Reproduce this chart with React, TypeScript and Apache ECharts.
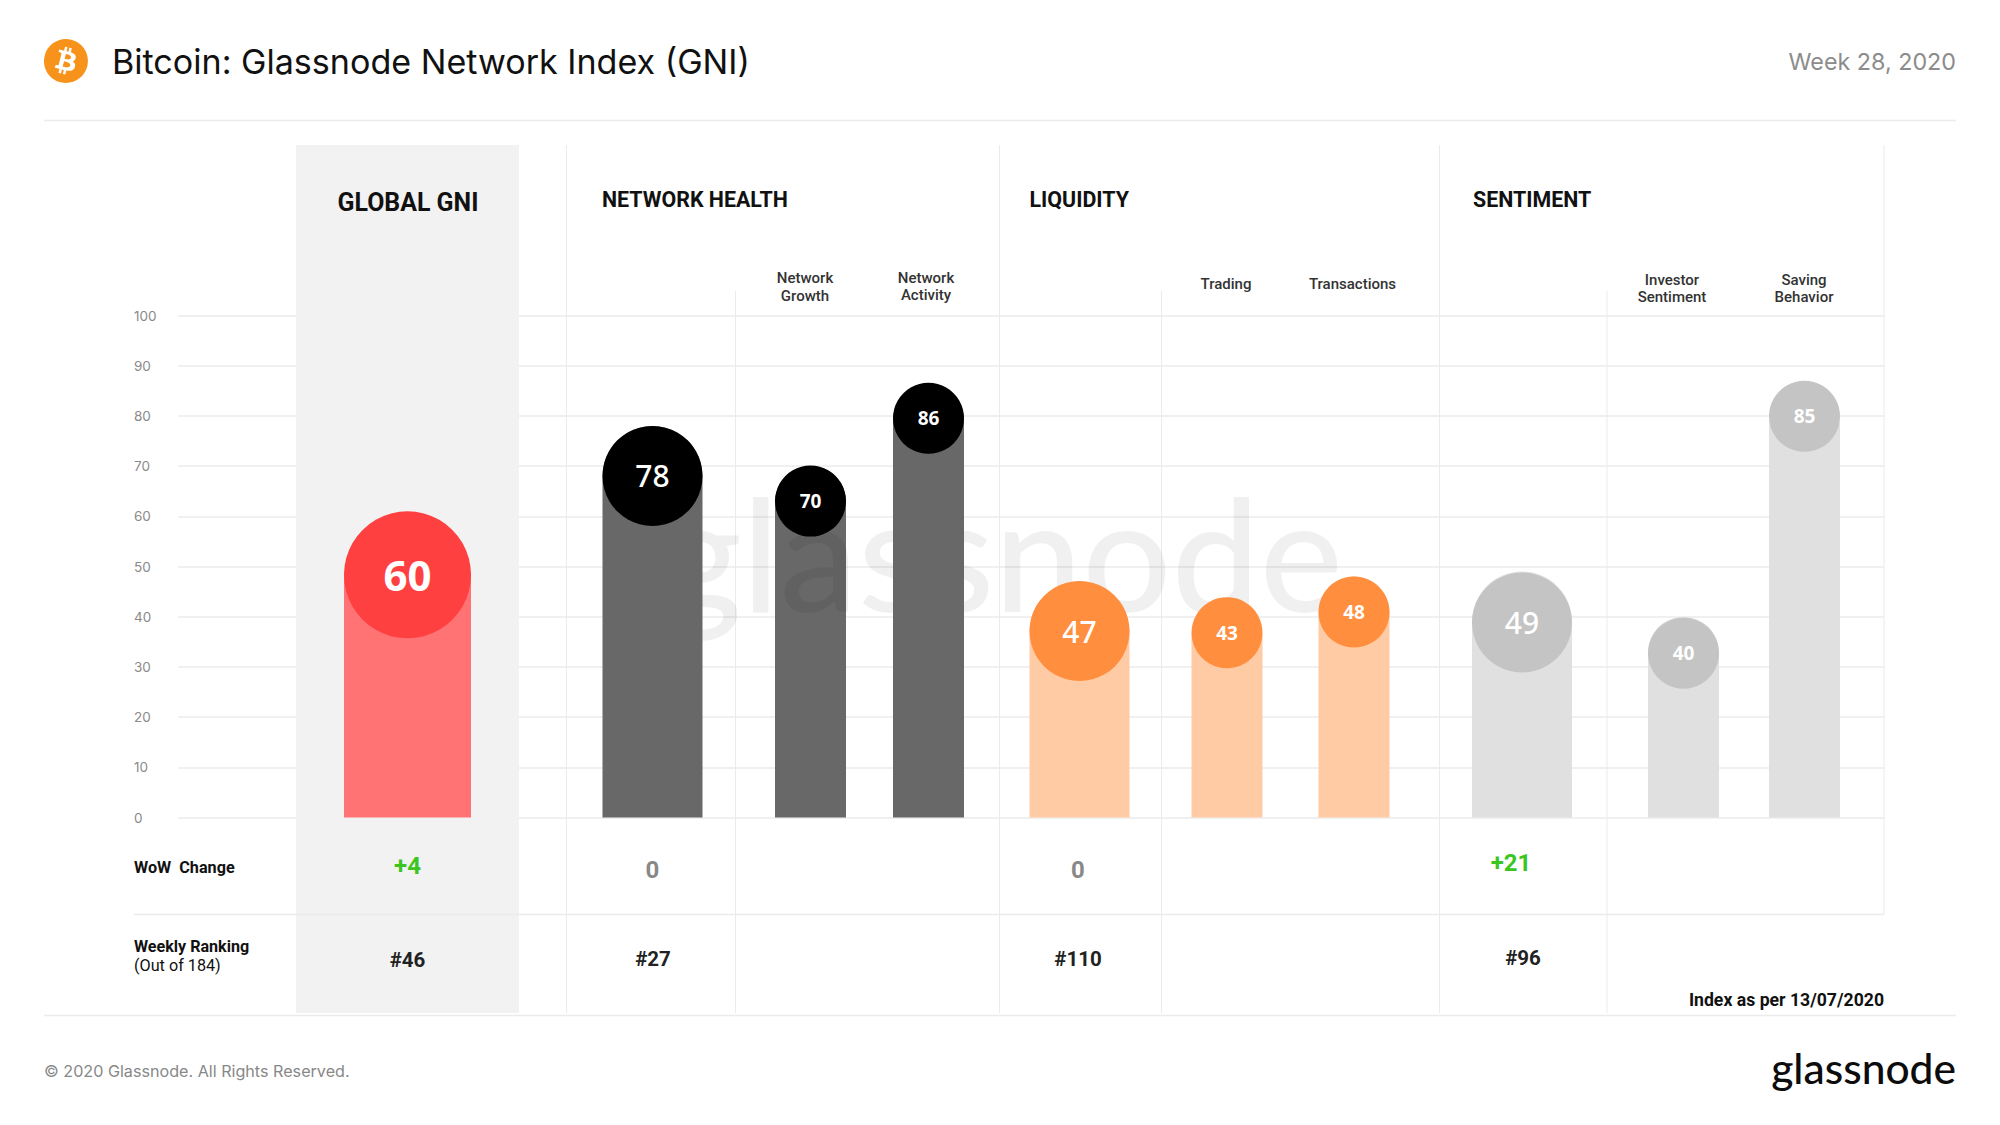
import React, { useEffect, useRef } from "react";
import * as echarts from "echarts";

const columns = ["Global GNI", "Network Health", "Network Growth", "Network Activity", "Liquidity", "Trading", "Transactions", "Sentiment", "Investor Sentiment", "Saving Behavior"];
const scores = [60, 78, 70, 86, 47, 43, 48, 49, 40, 85];
const yTicks = [0, 10, 20, 30, 40, 50, 60, 70, 80, 90, 100];
const wowChanges = ["+4", "0", "0", "+21"];
const rankings = ["#46", "#27", "#110", "#96"];

// layout of the columns (pixels), separate from the values
const barCenter = [407.5, 652.5, 810.5, 928.5, 1079.5, 1227, 1354, 1522, 1683.5, 1804.5];
const barWidth = [127, 100, 71, 71, 100, 71, 71, 100, 71, 71];
const circleNudge = [-5, 0, -0.5, -3, -0.5, -4.5, 0, 1, 1, -10];
const labelSize = [42, 30, 19, 19, 30, 19, 19, 30, 19, 19];
const labelWeight = [700, 500, 700, 700, 500, 700, 700, 500, 700, 700];
const groupOf = [0, 1, 1, 1, 2, 2, 2, 3, 3, 3];
const barColor = ["#FF7375", "#686868", "#FFCBA5", "#E0E0E0"];
const circleColor = ["#FF4040", "#000000", "#FF8F3F", "#C4C4C4"];

const PLOT = { left: 178, right: 1884, top: 315.5, height: 502 };
const LINE = "#EBEBEB";
const ROBOTO = "Roboto, sans-serif";
const INTER = "Inter, sans-serif";
const BTC = "M23.638 14.904c-1.602 6.43-8.113 10.34-14.542 8.736C2.67 22.05-1.244 15.525.362 9.105 1.962 2.67 8.475-1.243 14.9.358c6.43 1.605 10.342 8.115 8.738 14.548v-.002zm-6.35-4.613c.24-1.59-.974-2.45-2.64-3.03l.54-2.153-1.315-.33-.525 2.107c-.345-.087-.705-.167-1.064-.25l.526-2.127-1.32-.33-.54 2.165c-.285-.067-.565-.132-.84-.2l-1.815-.45-.35 1.407s.975.225.955.236c.535.136.63.486.615.766l-1.477 5.92c-.075.166-.24.406-.614.314.015.02-.96-.24-.96-.24l-.66 1.51 1.71.426.93.242-.54 2.19 1.32.327.54-2.17c.36.1.705.19 1.05.273l-.51 2.154 1.32.33.545-2.19c2.24.427 3.93.257 4.64-1.774.57-1.637-.03-2.58-1.217-3.196.854-.193 1.5-.76 1.68-1.93h.01zm-3.01 4.22c-.404 1.64-3.157.75-4.05.53l.72-2.9c.896.23 3.757.67 3.33 2.37zm.41-4.24c-.37 1.49-2.662.735-3.405.55l.654-2.64c.744.18 3.137.524 2.75 2.084v.006z";

const txt = (text: string, x: number, y: number, size: number, fill: string, family = ROBOTO, weight: number = 400, align = "left", z = 20) => ({
  type: "text",
  z,
  silent: true,
  style: { text, x, y, fill, fontSize: size, fontFamily: family, fontWeight: weight, textAlign: align, textVerticalAlign: "middle" },
});
const ln = (x1: number, y1: number, x2: number, y2: number, w = 1, stroke = LINE, z = 2) => ({
  type: "line",
  z,
  silent: true,
  shape: { x1, y1, x2, y2 },
  style: { stroke, lineWidth: w },
});

export default function App() {
  const ref = useRef<HTMLDivElement>(null);
  useEffect(() => {
    document.body.style.margin = "0";
    echarts.graphic.registerShape("btc", echarts.graphic.extendPath(BTC, {}));
    const chart = echarts.init(ref.current!, undefined, { renderer: "svg" });

    const grids: any[] = [{ left: PLOT.left, top: PLOT.top, width: PLOT.right - PLOT.left, height: PLOT.height }];
    const xAxes: any[] = [{ type: "category", gridIndex: 0, data: [""], show: false }];
    const yAxes: any[] = [{
      type: "value", gridIndex: 0, min: 0, max: 100, interval: 10, z: 0,
      axisLine: { show: false }, axisTick: { show: false },
      axisLabel: { align: "left", margin: 44, color: "#8a8a8a", fontSize: 13.5, fontFamily: INTER, padding: [0, 0, 3, 0], formatter: (v: number) => (yTicks.includes(v) ? String(v) : "") },
      splitLine: { lineStyle: { color: LINE, width: 1.5 } },
    }];
    const series: any[] = [];
    columns.forEach((name, i) => {
      const g = i + 1;
      const w = barWidth[i];
      grids.push({ left: barCenter[i] - w / 2, top: PLOT.top, width: w, height: PLOT.height });
      xAxes.push({ type: "category", gridIndex: g, data: [name], show: false });
      yAxes.push({ type: "value", gridIndex: g, min: 0, max: 100, show: false, splitLine: { show: false } });
      series.push({
        type: "bar", name, xAxisIndex: g, yAxisIndex: g, data: [scores[i]], barWidth: "100%",
        z: i === 2 ? 3 : 6,
        itemStyle: { color: barColor[groupOf[i]], borderRadius: [w / 2, w / 2, 0, 0] },
      });
      series.push({
        type: "scatter", name, xAxisIndex: g, yAxisIndex: g, data: [scores[i]], symbol: "circle", symbolSize: w,
        symbolOffset: [0, w / 2 + circleNudge[i]], clip: false, z: 8,
        itemStyle: { color: circleColor[groupOf[i]], opacity: 1 },
        label: { show: true, position: "inside", color: "#fff", fontSize: labelSize[i], fontWeight: labelWeight[i], fontFamily: "Noto Sans, sans-serif", formatter: String(scores[i]) },
      });
    });

    const graphic: any[] = [
      { type: "btc", z: 20, x: 44, y: 39, scaleX: 44 / 24, scaleY: 44 / 24, style: { fill: "#F7931A" } },
      txt("Bitcoin: Glassnode Network Index (GNI)", 112, 61, 34.1, "#111", INTER),
      txt("Week 28, 2020", 1956, 61, 23.3, "#8c8c8c", INTER, 400, "right"),
      ln(44, 120.5, 1956, 120.5, 1.5),
      ln(44, 1015.5, 1956, 1015.5, 1.5),
      { type: "rect", z: 1, silent: true, shape: { x: 296, y: 145, width: 223, height: 868 }, style: { fill: "#F2F2F2" } },
      ln(566.5, 145, 566.5, 1013),
      ln(735.5, 291, 735.5, 1013),
      ln(999.5, 145, 999.5, 1013),
      ln(1161.5, 291, 1161.5, 1013),
      ln(1439.5, 145, 1439.5, 1013),
      ln(1607, 291, 1607, 1013),
      ln(1884, 145, 1884, 914),
      ln(134, 914.5, 1884, 914.5, 1.5),
      txt("glassnode", 660, 551, 157, "rgba(0,0,0,0.06)", "Lato, sans-serif", 500, "left", 5),

      txt("GLOBAL GNI", 408, 202, 24.9, "#111", ROBOTO, 700, "center"),
      txt("NETWORK HEALTH", 602, 199, 21.4, "#111", ROBOTO, 700),
      txt("LIQUIDITY", 1029.5, 199, 21.4, "#111", ROBOTO, 700),
      txt("SENTIMENT", 1473, 199, 21.4, "#111", ROBOTO, 700),

      txt("Network", 805, 278, 15, "#333", ROBOTO, 500, "center"),
      txt("Growth", 805, 295.5, 15, "#333", ROBOTO, 500, "center"),
      txt("Network", 926, 277.5, 15, "#333", ROBOTO, 500, "center"),
      txt("Activity", 926, 294.5, 15, "#333", ROBOTO, 500, "center"),
      txt("Trading", 1226, 284, 15, "#333", ROBOTO, 500, "center"),
      txt("Transactions", 1352.5, 284, 15, "#333", ROBOTO, 500, "center"),
      txt("Investor", 1672, 280, 15, "#333", ROBOTO, 500, "center"),
      txt("Sentiment", 1672, 297, 15, "#333", ROBOTO, 500, "center"),
      txt("Saving", 1804, 280, 15, "#333", ROBOTO, 500, "center"),
      txt("Behavior", 1804, 297, 15, "#333", ROBOTO, 500, "center"),

      txt("WoW  Change", 134, 867.5, 16.2, "#111", ROBOTO, 700),
      txt("Weekly Ranking", 134, 946.5, 16.1, "#111", ROBOTO, 700),
      txt("(Out of 184)", 134, 965.5, 16.2, "#111", ROBOTO, 400),

      txt(wowChanges[0], 407.5, 866, 24, "#3CC51F", ROBOTO, 700, "center"),
      txt(wowChanges[1], 652.5, 869.5, 24, "#888888", ROBOTO, 700, "center"),
      txt(wowChanges[2], 1078, 869.5, 24, "#888888", ROBOTO, 700, "center"),
      txt(wowChanges[3], 1511, 862.5, 24, "#3CC51F", ROBOTO, 700, "center"),

      txt(rankings[0], 407.5, 960, 20.5, "#222", ROBOTO, 700, "center"),
      txt(rankings[1], 653, 959, 20.5, "#222", ROBOTO, 700, "center"),
      txt(rankings[2], 1078, 959, 20.5, "#222", ROBOTO, 700, "center"),
      txt(rankings[3], 1523, 958, 20.5, "#222", ROBOTO, 700, "center"),

      txt("Index as per 13/07/2020", 1884, 999.5, 17.65, "#111", ROBOTO, 700, "right"),
      txt("© 2020 Glassnode. All Rights Reserved.", 44, 1071, 16.15, "#888", INTER),
      txt("glassnode", 1956, 1067.5, 42.5, "#0c0c0c", "Lato, sans-serif", 500, "right"),
    ];

    chart.setOption({ animation: false, backgroundColor: "#fff", grid: grids, xAxis: xAxes, yAxis: yAxes, series, graphic: { elements: graphic } });
    return () => chart.dispose();
  }, []);
  return <div ref={ref} style={{ position: "absolute", left: 0, top: 0, width: 2000, height: 1125 }} />;
}
